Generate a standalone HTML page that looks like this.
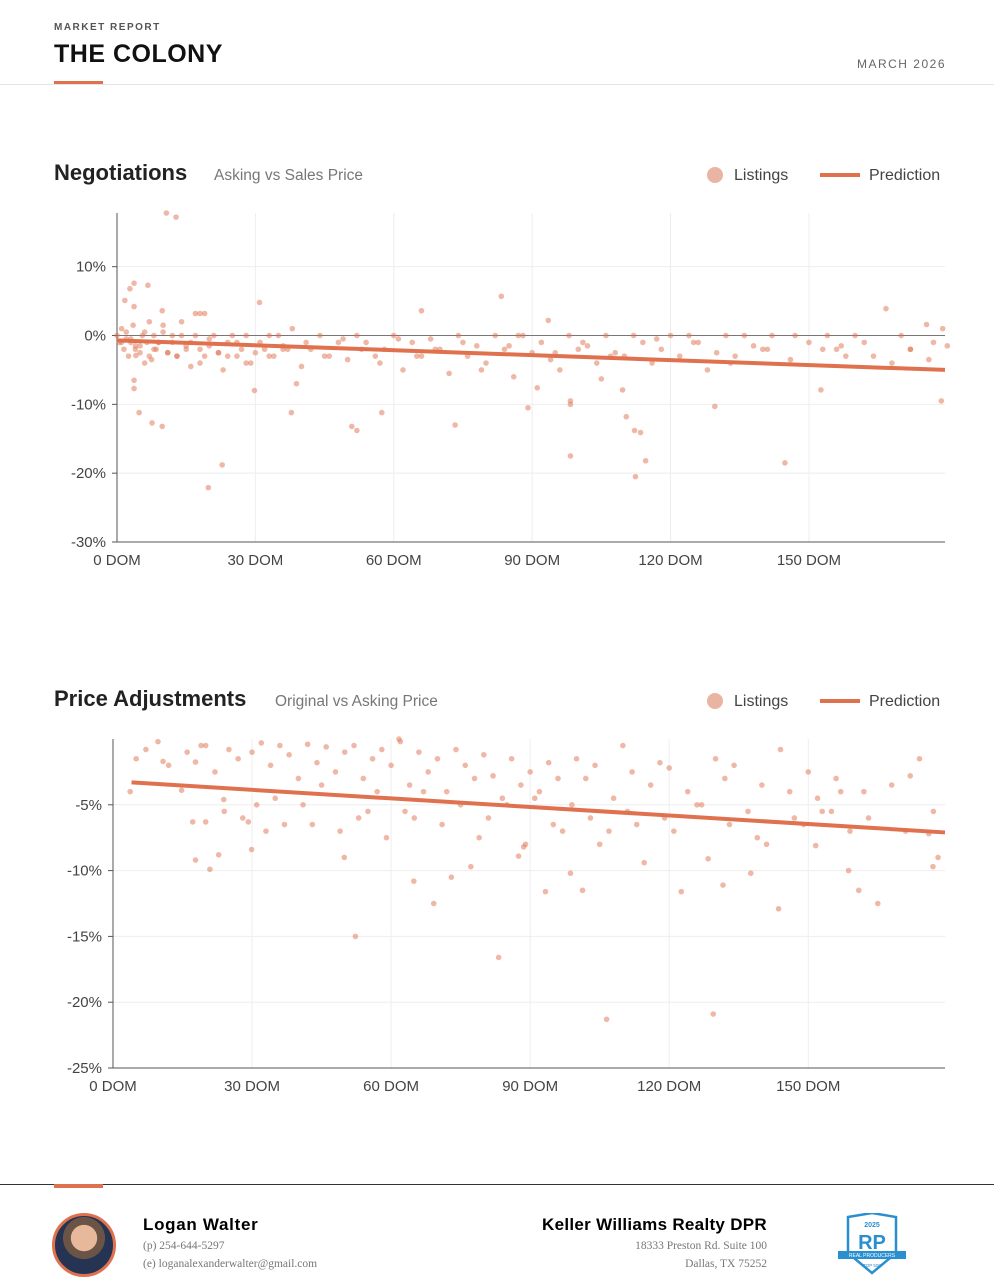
<!DOCTYPE html>
<html><head><meta charset="utf-8">
<style>
body{margin:0;width:994px;height:1286px;background:#fff;font-family:"Liberation Sans",sans-serif;position:relative;overflow:hidden}
.abs{position:absolute}
</style></head>
<body>
<div class="abs" style="left:54px;top:22px;font-size:10px;letter-spacing:1.5px;color:#555;font-weight:bold">MARKET REPORT</div>
<div class="abs" style="left:54px;top:40px;font-size:25px;font-weight:bold;letter-spacing:0.5px;color:#111">THE COLONY</div>
<div class="abs" style="left:54px;top:81px;width:49px;height:4px;background:#e0714e"></div>
<div class="abs" style="left:0;top:84px;width:994px;height:1px;background:#e4e4e4"></div>
<div class="abs" style="right:48px;top:57px;font-size:12px;letter-spacing:1.5px;color:#666">MARCH 2026</div>

<svg class="abs" style="left:0;top:0" width="994" height="1180" font-family="Liberation Sans, sans-serif">
<g id="c1"></g><g id="c2"></g>
</svg>

<div class="abs" style="left:0;top:1184px;width:994px;height:1px;background:#333"></div>
<div class="abs" style="left:54px;top:1184px;width:49px;height:4px;background:#e0714e"></div>
<div class="abs" style="left:52px;top:1213px;width:58px;height:58px;border-radius:50%;border:3px solid #e0714e;background:radial-gradient(circle at 50% 38%,#e8b89a 0 28%,#6b5446 29% 45%,#243452 46%)"></div>
<div class="abs" style="left:143px;top:1215px;font-size:17px;font-weight:bold;letter-spacing:0.7px">Logan Walter</div>
<div class="abs" style="left:143px;top:1240px;font-size:11.5px;color:#777;font-family:'Liberation Serif',serif">(p) 254-644-5297</div>
<div class="abs" style="left:143px;top:1258px;font-size:11.5px;color:#777;font-family:'Liberation Serif',serif">(e) loganalexanderwalter@gmail.com</div>
<div class="abs" style="right:227px;top:1215px;font-size:17px;font-weight:bold;letter-spacing:0.3px">Keller Williams Realty DPR</div>
<div class="abs" style="right:227px;top:1240px;font-size:11.5px;color:#777;font-family:'Liberation Serif',serif;text-align:right">18333 Preston Rd. Suite 100</div>
<div class="abs" style="right:227px;top:1258px;font-size:11.5px;color:#777;font-family:'Liberation Serif',serif;text-align:right">Dallas, TX 75252</div>
<svg class="abs" style="left:836px;top:1213px" width="72" height="62">
<path d="M12 4 L36 0 L60 4 L60 40 L36 60 L12 40 Z" fill="#fff" stroke="#2a8fd0" stroke-width="2.5"/>
<text x="36" y="14" font-size="7" text-anchor="middle" fill="#2a8fd0" font-weight="bold">2025</text>
<text x="36" y="36" font-size="20" text-anchor="middle" fill="#2a8fd0" font-weight="bold">RP</text>
<rect x="2" y="38" width="68" height="8" fill="#2a8fd0"/>
<text x="36" y="44" font-size="5" text-anchor="middle" fill="#fff">REAL PRODUCERS</text>
<text x="36" y="54" font-size="4.5" text-anchor="middle" fill="#2a8fd0">TOP 500</text>
</svg>

<script>
// Chart 1 data: [days on market, % asking vs sales]
const negDom=[10.7,12.8,3.7,6.7,2.8,1.7,3.7,9.8,30.9,83.3,66,93.5,166.7,175.5,17,18,19,
4.1,3.7,3.7,4.8,7.6,9.8,22.8,19.8,29.8,37.8,38.9,50.9,52,57.4,73.3,89.1,91.1,98.3,98.3,98.3,110.4,112.2,113.5,114.6,112.4,129.6,144.8,178.7,152.6,105,109.6,
0,0.5,1,1.5,2,2.5,3,3.5,4,5,5.5,6,6.5,7,7.5,8,8.5,9,10,11,12,13,14,15,16,17,18,19,20,21,22,23,24,25,26,27,28,29,31,32,33,34,35,36,37,38,40,42,44,46,48,50,52,54,56,58,60,62,64,66,68,70,72,74,76,78,80,82,84,86,88,90,92,94,96,98,100,102,104,106,108,110,112,114,116,118,120,122,124,126,128,130,132,134,136,138,140,142,146,150,154,156,158,160,162,168,170,172,176,179,180,
1,2,3,4,5,6,7,8,9,10,11,12,13,14,15,16,18,20,22,24,26,28,30,33,36,41,45,49,53,57,61,65,69,75,79,85,87,95,101,107,117,125,133,141,147,153,157,164,172,177];
const negPct=[17.8,17.2,7.6,7.3,6.8,5.1,4.2,3.6,4.8,5.7,3.6,2.2,3.9,1.6,3.2,3.2,3.2,
-2.9,-6.5,-7.7,-11.2,-12.7,-13.2,-18.8,-22.1,-8,-11.2,-7,-13.2,-13.8,-11.2,-13,-10.5,-7.6,-9.5,-10,-17.5,-11.8,-13.8,-14.1,-18.2,-20.5,-10.3,-18.5,-9.5,-7.9,-6.3,-7.9,
0,-1,1,-2,0.5,-3,-0.5,1.5,-1.5,-2.5,0,-4,-1,2,-3.5,0,-2,-1,1.5,-2.5,0,-3,2,-1.5,-4.5,0,-2,-3,-0.5,0,-2.5,-5,-1,0,-3,-2,0,-4,-1,-2,0,-3,0,-1.5,-2,1,-4.5,-2,0,-3,-1,-3.5,0,-1,-3,-2,0,-5,-1,-3,-0.5,-2,-5.5,0,-3,-1.5,-4,0,-2,-6,0,-2.5,-1,-3.5,-5,0,-2,-1.5,-4,0,-2.5,-3,0,-1,-4,-2,0,-3,0,-1,-5,-2.5,0,-3,0,-1.5,-2,0,-3.5,-1,0,-2,-3,0,-1,-4,0,-2,-3.5,1,-1.5,-1,
-0.5,-1,-2,-1.5,0.5,-3,-2,-1,0.5,-2.5,-1,-3,0,-2,-1,-4,-1.5,-2.5,-3,-1,-4,-2.5,-3,-2,-1,-3,-0.5,-2,-4,-0.5,-3,-2,-1,-5,-1.5,0,-2.5,-1,-3,-0.5,-1,-4,-2,0,-2,-1.5,-3,-2,-1,-0.5];
const negPred=[-0.7,-5];
const xTicks=[0,30,60,90,120,150];
const negYTicks=[10,0,-10,-20,-30];
// Chart 2 data
const adjDom=[7.1,9.7,10.8,3.7,14.8,17.8,20,17.2,20,17.8,20.9,22.8,23.9,29.9,29.2,52.3,49.9,64.9,69.2,73,77.2,83.2,87.5,93.3,106.5,129.5,122.6,128.4,131.6,137.6,143.6,151.6,158.7,160.9,165,176.9,178,176,101.3,114.6,98.7,88.6,61.7,
5,12,16,19,22,25,27,30,32,34,36,38,40,42,44,46,48,50,52,54,56,58,60,62,64,66,68,70,72,74,76,78,80,82,84,86,88,90,92,94,96,100,102,104,108,110,112,116,118,120,124,126,130,132,134,140,144,146,150,152,156,162,168,172,174,
24,28,31,33,35,37,41,43,45,49,53,55,57,59,63,65,67,71,75,79,81,85,89,91,95,97,99,103,105,107,111,113,119,121,127,133,137,139,141,147,149,153,155,157,159,163,171,177];
const adjPct=[-0.8,-0.2,-1.7,-4,-3.9,-1.75,-0.5,-6.3,-6.3,-9.2,-9.9,-8.8,-4.6,-8.4,-6.3,-15,-9,-10.8,-12.5,-10.5,-9.7,-16.6,-8.9,-11.6,-21.3,-20.9,-11.6,-9.1,-11.1,-10.2,-12.9,-8.1,-10,-11.5,-12.5,-9.7,-9,-7.2,-11.5,-9.4,-10.2,-8.2,0,
-1.5,-2,-1,-0.5,-2.5,-0.8,-1.5,-1,-0.3,-2,-0.5,-1.2,-3,-0.4,-1.8,-0.6,-2.5,-1,-0.5,-3,-1.5,-0.8,-2,-0.2,-3.5,-1,-2.5,-1.5,-4,-0.8,-2,-3,-1.2,-2.8,-4.5,-1.5,-3.5,-2.5,-4,-1.8,-3,-1.5,-3,-2,-4.5,-0.5,-2.5,-3.5,-1.8,-2.2,-4,-5,-1.5,-3,-2,-3.5,-0.8,-4,-2.5,-4.5,-3,-4,-3.5,-2.8,-1.5,
-5.5,-6,-5,-7,-4.5,-6.5,-5,-6.5,-3.5,-7,-6,-5.5,-4,-7.5,-5.5,-6,-4,-6.5,-5,-7.5,-6,-5,-8,-4.5,-6.5,-7,-5,-6,-8,-7,-5.5,-6.5,-6,-7,-5,-6.5,-5.5,-7.5,-8,-6,-6.5,-5.5,-5.5,-4,-7,-6,-7,-5.5];
const adjPred=[-3.3,-7.1];
const adjPredStart=4;
const adjYTicks=[-5,-10,-15,-20,-25];

const NS='http://www.w3.org/2000/svg';
function mk(parent,tag,attrs){const e=document.createElementNS(NS,tag);for(const k in attrs)e.setAttribute(k,attrs[k]);parent.appendChild(e);return e;}
function txt(parent,x,y,s,attrs){const t=mk(parent,'text',Object.assign({x:x,y:y},attrs));t.textContent=s;return t;}

function chart(g,o){
  const sx=d=>o.x0+(d-0)*(o.x1-o.x0)/179.5;
  const sy=p=>o.yTop+(o.pTop-p)*(o.yBot-o.yTop)/(o.pTop-o.pBot);
  const t=txt(g,54,o.titleY,o.title,{'font-size':o.titleSize,'font-weight':'bold',fill:'#222'});
  
  
  const st=txt(g,o.subX,o.titleY,o.sub,{'font-size':15.5,fill:'#777'});
  
  
  const l1=mk(g,'circle',{cx:715,cy:o.titleY-5,r:8,fill:'#eab4a2'});
  
  
  const l1t=txt(g,734,o.titleY,'Listings',{'font-size':16,fill:'#444'});
  
  
  const l2=mk(g,'rect',{x:820,y:o.titleY-7,width:40,height:4,fill:'#e0714e'});
  
  
  const l2t=txt(g,869,o.titleY,'Prediction',{'font-size':16,fill:'#444'});
  
  
  xTicks.forEach(d=>{
    if(d>0){const gl=mk(g,'line',{x1:sx(d),x2:sx(d),y1:o.yTop,y2:o.yBot,stroke:'#eee'});
    
    }
    const tl=txt(g,sx(d),o.yBot+23,d+' DOM',{'font-size':15,fill:'#444','text-anchor':'middle'});
    
    
  });
  o.yTicks.forEach(p=>{
    const gl=mk(g,'line',{x1:o.x0,x2:o.x1,y1:sy(p),y2:sy(p),stroke:p===0?'#777':'#eee'});
    
    
    mk(g,'line',{x1:o.x0-5,x2:o.x0,y1:sy(p),y2:sy(p),stroke:'#555'});
    const tl=txt(g,o.x0-11,sy(p)+5,p+'%',{'font-size':15,fill:'#444','text-anchor':'end'});
    
    
  });
  const ya=mk(g,'line',{x1:o.x0,x2:o.x0,y1:o.yTop,y2:o.yBot,stroke:'#555'});
  
  
  const xa=mk(g,'line',{x1:o.x0,x2:o.x1,y1:o.yBot,y2:o.yBot,stroke:'#555'});
  
  
  o.dom.forEach((d,i)=>{
    const c=mk(g,'circle',{cx:sx(d),cy:sy(o.pct[i]),r:2.8,fill:'#e0714e','fill-opacity':0.5});
    
    
  });
  const pl=mk(g,'line',{x1:sx(o.predStart),y1:sy(o.pred[0]),x2:o.x1,y2:sy(o.pred[1]),stroke:'#e0714e','stroke-width':4});
  
  
}
chart(document.getElementById('c1'),{title:'Negotiations',titleSize:22,sub:'Asking vs Sales Price',subX:214,titleY:180,x0:117,x1:945,yTop:213,yBot:542,pTop:17.8,pBot:-30,yTicks:negYTicks,dom:negDom,pct:negPct,pred:negPred,predStart:0});
chart(document.getElementById('c2'),{title:'Price Adjustments',titleSize:22,sub:'Original vs Asking Price',subX:275,titleY:706,x0:113,x1:945,yTop:739,yBot:1068,pTop:0,pBot:-25,yTicks:adjYTicks,dom:adjDom,pct:adjPct,pred:adjPred,predStart:adjPredStart});
</script>
</body></html>
